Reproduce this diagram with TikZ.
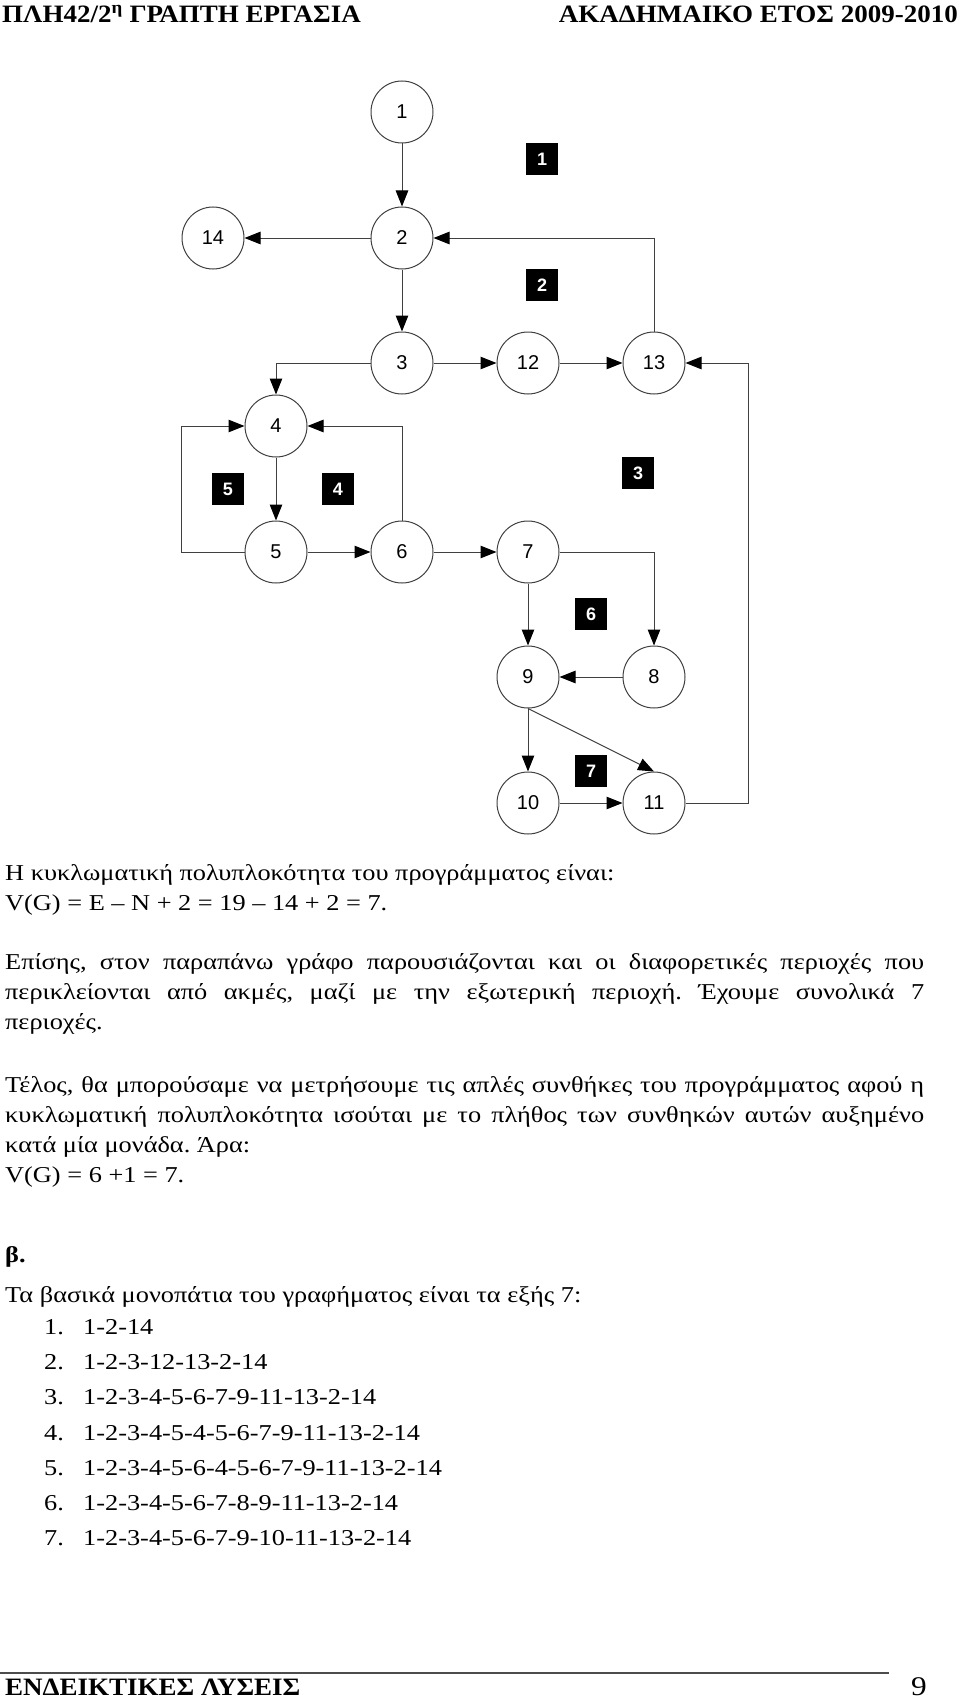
\documentclass[tikz,border=0pt]{standalone}
\usepackage{fontspec}
\setmainfont{Liberation Serif}[FakeStretch=1.16]
\newfontfamily\headfont{Liberation Serif}[FakeStretch=1.08]
\newfontfamily\arialfont{Liberation Sans}
\usepackage{tikz}
\usetikzlibrary{arrows.meta,positioning}
\setlength{\parindent}{0pt}
\hyphenpenalty=10000
\exhyphenpenalty=10000
\frenchspacing

\begin{document}
\begin{tikzpicture}[x=1pt, y=-1pt,
        vertex/.style={draw=black!75, circle, line width=1pt, minimum size=62pt, inner sep=0pt, font=\arialfont\fontsize{20}{24}\selectfont},
        region/.style={fill=black, text=white, minimum size=32pt, inner sep=0pt, font=\arialfont\bfseries\fontsize{18}{20}\selectfont},
        link/.style={draw=black!75, line width=1pt, -{Triangle[length=16pt, width=12.5pt, color=black]}},
        txt/.style={anchor=base west, inner sep=0pt, font=\fontsize{22.7}{30}\selectfont},
        para/.style={txt, text width=919pt, align=justify},
        headline/.style={inner sep=0pt, font=\headfont\bfseries\fontsize{25}{30}\selectfont}]
    \useasboundingbox (0,0) rectangle (960,1699);

    \node[headline, anchor=base west] (head) at (2,23) {ΠΛΗ42/2\textsuperscript{η} ΓΡΑΠΤΗ ΕΡΓΑΣΙΑ};
    \node[headline, anchor=base east] (year) at (958,23) {ΑΚΑΔΗΜΑΙΚΟ ΕΤΟΣ 2009-2010};

    \node[vertex] (n1) at (402,112) {1};
    \node[vertex] (n2) at (402,238) {2};
    \node[vertex] (n14) at (213,238) {14};
    \node[vertex] (n3) at (402,363) {3};
    \node[vertex] (n12) at (528,363) {12};
    \node[vertex] (n13) at (654,363) {13};
    \node[vertex] (n4) at (276,426) {4};
    \node[vertex] (n5) at (276,552) {5};
    \node[vertex] (n6) at (402,552) {6};
    \node[vertex] (n7) at (528,552) {7};
    \node[vertex] (n9) at (528,677) {9};
    \node[vertex] (n8) at (654,677) {8};
    \node[vertex] (n10) at (528,803) {10};
    \node[vertex] (n11) at (654,803) {11};

    \node[region] (r1) at (542,159) {1};
    \node[region] (r2) at (542,285) {2};
    \node[region] (r3) at (638,473) {3};
    \node[region] (r4) at (338,489) {4};
    \node[region] (r5) at (228,489) {5};
    \node[region] (r6) at (591,614) {6};
    \node[region] (r7) at (591,771) {7};

    \draw[link] (n1) -- (n2);
    \draw[link] (n2) -- (n14);
    \draw[link] (n2) -- (n3);
    \draw[link] (n3) -- (n12);
    \draw[link] (n12) -- (n13);
    \draw[link] (n13) |- (n2);
    \draw[link] (n3) -| (n4);
    \draw[link] (n4) -- (n5);
    \draw[link] (n5) -- ++(-95,0) |- (n4);
    \draw[link] (n5) -- (n6);
    \draw[link] (n6) |- (n4);
    \draw[link] (n6) -- (n7);
    \draw[link] (n7) -- (n9);
    \draw[link] (n7) -| (n8);
    \draw[link] (n8) -- (n9);
    \draw[link] (n9) -- (n10);
    \draw[link] (n9.south) -- (n11.north);
    \draw[link] (n10) -- (n11);
    \draw[link] (n11) -- ++(94,0) |- (n13);

    \node[para] (vg) at (5,880) {Η κυκλωματική πολυπλοκότητα του προγράμματος είναι:\\ V(G) = E – N + 2 = 19 – 14 + 2 = 7.};
    \node[para] (areas) at (5,969) {Επίσης, στον παραπάνω γράφο παρουσιάζονται και οι διαφορετικές περιοχές που\linebreak περικλείονται από ακμές, μαζί με την εξωτερική περιοχή. Έχουμε συνολικά 7\linebreak περιοχές.};
    \node[para] (conds) at (5,1092) {Τέλος, θα μπορούσαμε να μετρήσουμε τις απλές συνθήκες του προγράμματος αφού η\linebreak κυκλωματική πολυπλοκότητα ισούται με το πλήθος των συνθηκών αυτών αυξημένο\linebreak κατά μία μονάδα. Άρα:\\ V(G) = 6 +1 = 7.};

    \node[txt, font=\bfseries\fontsize{22.7}{30}\selectfont] (beta) at (5,1262) {β.};
    \node[txt] (paths) at (5,1302) {Τα βασικά μονοπάτια του γραφήματος είναι τα εξής 7:};
    \node[txt] (p1) at (44,1334) {\makebox[39pt][l]{1.}1-2-14};
    \node[txt] (p2) at (44,1369) {\makebox[39pt][l]{2.}1-2-3-12-13-2-14};
    \node[txt] (p3) at (44,1404) {\makebox[39pt][l]{3.}1-2-3-4-5-6-7-9-11-13-2-14};
    \node[txt] (p4) at (44,1440) {\makebox[39pt][l]{4.}1-2-3-4-5-4-5-6-7-9-11-13-2-14};
    \node[txt] (p5) at (44,1475) {\makebox[39pt][l]{5.}1-2-3-4-5-6-4-5-6-7-9-11-13-2-14};
    \node[txt] (p6) at (44,1510) {\makebox[39pt][l]{6.}1-2-3-4-5-6-7-8-9-11-13-2-14};
    \node[txt] (p7) at (44,1545) {\makebox[39pt][l]{7.}1-2-3-4-5-6-7-9-10-11-13-2-14};

    \draw[black!70, line width=1.5pt] (0,1673) -- (889,1673);
    \node[headline, anchor=base west] (foot) at (5,1695) {ΕΝΔΕΙΚΤΙΚΕΣ ΛΥΣΕΙΣ};
    \node[txt, anchor=base east, font=\fontsize{27}{30}\selectfont] (page) at (927,1695) {9};

\end{tikzpicture}
\end{document}
